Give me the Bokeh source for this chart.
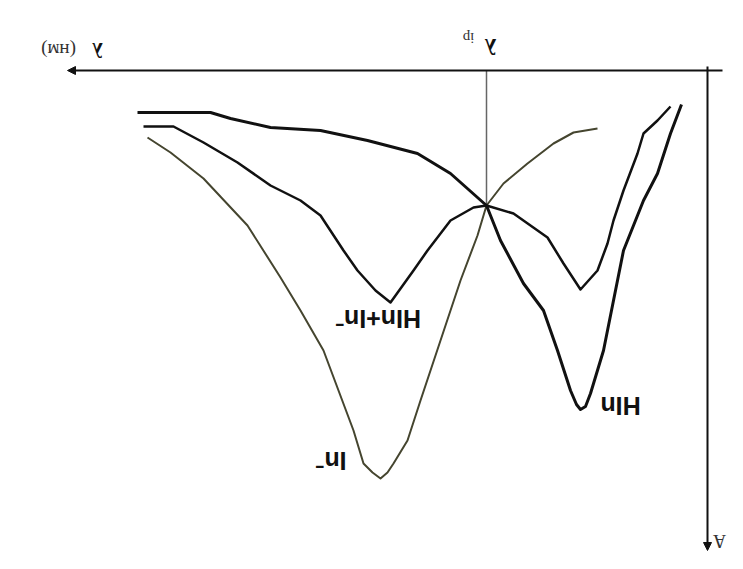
import numpy as np
from bokeh.plotting import figure
from bokeh.models import Range1d, Arrow, NormalHead
from bokeh.core.properties import value
from bokeh.embed import file_html
from bokeh.resources import INLINE

# ---- data (wavelength in nm, absorbance A) ----
hin_lambda = [687.5, 651, 641, 621, 596, 572.5, 547.5, 531, 517.5, 513, 506, 494.5,
              484.5, 477.5, 471, 468, 466, 463.5, 461, 454.5, 449.5, 444.5, 434.5, 427.5, 421, 415.5]
hin_a = [0.105, 0.105, 0.12, 0.1425, 0.15, 0.175, 0.2075, 0.2575, 0.3175, 0.3375, 0.425, 0.5325,
         0.60, 0.70, 0.80, 0.835, 0.8475, 0.84, 0.8075, 0.70, 0.575, 0.45, 0.325, 0.2575, 0.1575, 0.085]

mix_lambda = [684.5, 669.5, 654.5, 637.5, 621, 606, 596, 584.5, 577.5, 568.5, 561, 549.5,
              542.5, 531, 519.5, 513, 499.5, 482.5, 474.5, 466, 457.5, 452.5, 449.5, 444.5,
              437.5, 434.5, 427.5, 421]
mix_a = [0.14, 0.14, 0.18, 0.23, 0.2875, 0.325, 0.3625, 0.45, 0.50, 0.55, 0.58, 0.50,
         0.45, 0.375, 0.3425, 0.3375, 0.3575, 0.4175, 0.4825, 0.5475, 0.50, 0.4325, 0.375, 0.30,
         0.2075, 0.1575, 0.125, 0.09]

ind_lambda = [682.5, 671, 654.5, 632.5, 616, 606, 594.5, 579.5, 574.5, 570, 566, 562.5, 559.5, 552.5,
              546, 536, 526, 517.5, 513, 504.5, 492.5, 479.5, 469.5, 457.5]
ind_a = [0.1675, 0.205, 0.27, 0.3875, 0.5175, 0.60, 0.70, 0.90, 0.9825, 1.005, 1.02, 1.005, 0.9825, 0.925,
         0.825, 0.675, 0.525, 0.4125, 0.3375, 0.2825, 0.2325, 0.1825, 0.155, 0.145]

iso_lambda = 513
iso_a = 0.3375

# axis extents
axis_lambda_start = 400
axis_lambda_end = 722.5
axis_a_start = -0.01
axis_a_end = 1.2
vaxis_lambda = 402.5

p = figure(width=727, height=553, output_backend="svg", toolbar_location=None,
           x_range=Range1d(756, 392.5), y_range=Range1d(1.2075, -0.175),
           x_axis_type=None, y_axis_type=None, min_border=0)
p.grid.visible = False
p.outline_line_color = None
p.background_fill_color = "white"

# axes with arrows
p.add_layout(Arrow(end=NormalHead(size=8, fill_color="#111111", line_color="#111111"),
                   x_start=axis_lambda_start - 5, y_start=0, x_end=axis_lambda_end, y_end=0,
                   line_color="#111111", line_width=2))
p.add_layout(Arrow(end=NormalHead(size=8, fill_color="#111111", line_color="#111111"),
                   x_start=vaxis_lambda, y_start=axis_a_start, x_end=vaxis_lambda, y_end=axis_a_end,
                   line_color="#111111", line_width=2))

# isosbestic marker line
p.line([iso_lambda, iso_lambda], [0, iso_a], line_color="#666666", line_width=1.5)

# curves
p.line(ind_lambda, ind_a, line_color="#45452f", line_width=2, line_join="round")
p.line(mix_lambda, mix_a, line_color="#111111", line_width=2.5, line_join="round")
p.line(hin_lambda, hin_a, line_color="#111111", line_width=3, line_join="round")

ang = np.pi
serif = value("Liberation Serif")
sans = value("Liberation Sans")

# axis labels (upside-down, as in the reference)
p.text(x=[707.5], y=[-0.052], text=["λ"], angle=ang, text_font=serif, text_font_style="bold",
       text_font_size="21px", text_align="center", text_baseline="middle", text_color="#111111")
p.text(x=[727], y=[-0.05], text=["(нм)"], angle=ang, text_font=serif,
       text_font_size="19px", text_align="center", text_baseline="middle", text_color="#333333")
p.text(x=[511], y=[-0.06], text=["λ"], angle=ang, text_font=serif, text_font_style="bold",
       text_font_size="23px", text_align="center", text_baseline="middle", text_color="#111111")
p.text(x=[522], y=[-0.082], text=["ip"], angle=ang, text_font=serif,
       text_font_size="15px", text_align="center", text_baseline="middle", text_color="#333333")
p.text(x=[396.5], y=[1.177], text=["A"], angle=ang, text_font=serif,
       text_font_size="18px", text_align="center", text_baseline="middle", text_color="#333333")

# curve labels
p.text(x=[446, 567, 590.5], y=[0.8375, 0.62, 0.975], text=["HIn", "HIn+In⁻", "In⁻"],
       angle=ang, text_font=sans, text_font_style="bold", text_font_size="25px",
       text_align="center", text_baseline="middle", text_color="#111111")

open("out.html", "w").write(file_html(p, INLINE))
